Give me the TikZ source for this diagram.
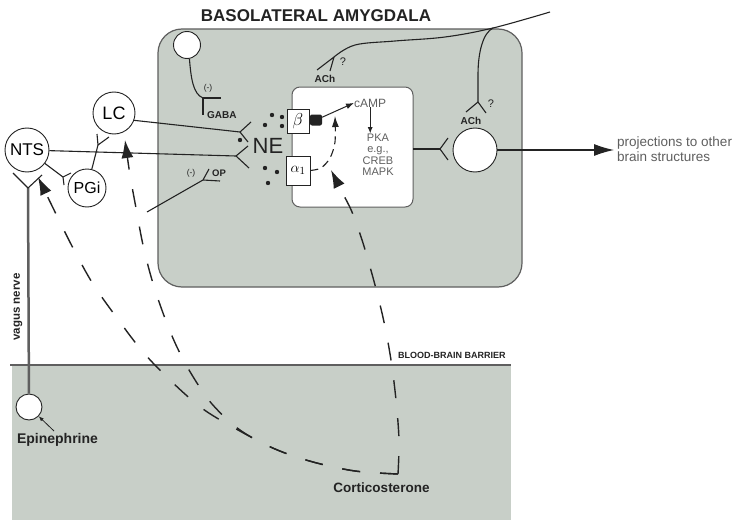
\documentclass[tikz,border=0pt]{standalone}
\usepackage{fontspec}
\setmainfont{Liberation Sans}
\usetikzlibrary{arrows.meta}
\definecolor{amyg}{RGB}{200,207,200}
\definecolor{boxedge}{RGB}{95,95,95}
\definecolor{ink}{RGB}{35,35,35}
\definecolor{soft}{RGB}{95,95,95}
\newcommand\fsz[1]{\fontsize{#1}{#1}\selectfont}
\begin{document}
\begin{tikzpicture}[x=1pt,y=-1pt,
  neuron/.style={circle,draw=ink,fill=white,line width=0.9pt,inner sep=0pt},
  axon/.style={draw=ink,line width=1.1pt},
  syn/.style={draw=ink,line width=1.1pt},
  hormone/.style={draw=ink,line width=1.4pt,dash pattern=on 18pt off 20pt},
  bigtip/.style={-{Latex[length=18pt,width=12pt]}},
  smalltip/.style={-{Latex[length=6pt,width=5pt]}},
  lbl/.style={inner sep=0pt,text=ink},
  softlbl/.style={inner sep=0pt,text=soft},
  recbox/.style={draw=ink,fill=white,line width=0.8pt,inner sep=0pt,minimum width=22pt,minimum height=24pt}]

\useasboundingbox (0,0) rectangle (747,527);
\fill[white] (0,0) rectangle (747,527);

% blood compartment
\fill[amyg] (12,365) rectangle (511,520);
\draw[draw=boxedge,line width=2pt] (10,365) -- (511,365);
\node[lbl,anchor=west,font=\bfseries\fsz{9}] (bbb) at (398,355) {BLOOD-BRAIN BARRIER};

% amygdala
\draw[fill=amyg,draw=boxedge,line width=1.2pt,rounded corners=24pt] (158,29) rectangle (522,287);
\draw[fill=white,draw=boxedge,line width=1pt,rounded corners=8pt] (292,87) rectangle (413,207);
\node[lbl,font=\bfseries\fsz{17}] (title) at (316,16) {BASOLATERAL AMYGDALA};

% neurons
\node[neuron,minimum size=44pt,font=\fsz{17}] (nts) at (27,150) {NTS};
\node[neuron,minimum size=42pt,font=\fsz{18}] (lc) at (114,113) {LC};
\node[neuron,minimum size=38pt,font=\fsz{16}] (pgi) at (87,188) {PGi};
\node[neuron,minimum size=27pt] (gn) at (187,45) {};
\node[neuron,minimum size=44pt] (out) at (475,150) {};
\node[neuron,minimum size=26pt] (epi) at (29,407) {};

% receptors
\node[recbox,font=\fsz{16}] (beta) at (298,121) {$\beta$};
\node[recbox,minimum width=24pt,minimum height=29pt,font=\fsz{15}] (alpha) at (298,170.5) {$\alpha_1$};
\node[fill=ink,minimum width=12pt,minimum height=11pt,inner sep=0pt,rounded corners=2pt] (blob) at (316,120) {};
\node[lbl,font=\fsz{22}] (ne) at (268,146) {NE};

% texts in the cell
\node[softlbl,anchor=base west,font=\fsz{12}] (camp) at (354,107) {cAMP};
\node[softlbl,anchor=base,font=\fsz{11}] (pka) at (378,141) {PKA};
\node[softlbl,anchor=base,font=\fsz{11}] (eg) at (378,152) {e.g.,};
\node[softlbl,anchor=base,font=\fsz{11}] (creb) at (378,164) {CREB};
\node[softlbl,anchor=base,font=\fsz{11}] (mapk) at (378,175) {MAPK};
\draw[ink,line width=0.9pt,smalltip] (camp.south) -- (camp.south |- pka.north);
\draw[ink,line width=1pt,-{Latex[length=8pt,width=6pt]}] (blob) -- (camp.west);

% NE vesicle dots
\foreach \p in {(272,115),(282,117),(265,125),(282,126),(240,140),(265,168),(277,172),(268,183)}
  \fill[ink] \p circle (2.2pt);

% coordinates
\coordinate (ne1) at (240,132);
\coordinate (ne2) at (236,156);
\coordinate (vsyn) at (28,188);
\coordinate (pgisyn) at (63,177);
\coordinate (lcsyn) at (98,145);
\coordinate (gabaT) at (203,98);
\coordinate (opstart) at (147,212);
\coordinate (opT) at (203,180);
\coordinate (ax0) at (550,12);
\coordinate (axJ) at (493,28);
\coordinate (ach1) at (334,57);
\coordinate (ach2) at (478,102);
\coordinate (wbR) at (413,149);
\coordinate (outsyn) at (440,149);
\coordinate (projtip) at (614,150);
\coordinate (cort) at (398,474);
\coordinate (ntsin) at (38,177);
\coordinate (lcin) at (125,140);
\coordinate (a1tip) at (331,170);
\coordinate (betain) at (335,116);
\coordinate (epiarr) at (54,431);

% projections to NE
\draw[axon] (lc.-20) -- (ne1);
\draw[syn] (ne1) -- ++(11,-10) (ne1) -- ++(8,10);
\draw[axon] (nts) -- (ne2);
\draw[syn] (ne2) -- ++(12,-10) (ne2) -- ++(13,12);
\draw[axon] (nts) -- (pgisyn);
\draw[syn] (pgisyn) -- ++(1,8) (pgisyn) -- ++(8,-4);
\draw[axon] (pgi) -- (lcsyn);
\draw[syn] (lcsyn) -- ++(-1,-11) (lcsyn) -- ++(11,-8);

% vagus nerve
\draw[draw=boxedge,line width=2.5pt] (epi) -- (vsyn);
\draw[syn] (vsyn) -- ++(-15,-15) (vsyn) -- ++(14,-13);
\node[lbl,rotate=90,font=\bfseries\fsz{11.5}] (vagus) at (18,307) {vagus nerve};

% GABA interneuron
\draw[axon] (gn.-80) .. controls (191,78) and (193,94) .. (gabaT);
\draw[syn] (gabaT) -- ++(18,0) (gabaT) -- ++(0,17);
\node[lbl,font=\fsz{8.5}] (gabaminus) at (208,88) {(-)};
\node[lbl,anchor=west,font=\bfseries\fsz{10}] (gaba) at (207,115) {GABA};

% opioid
\draw[axon] (opstart) -- (opT);
\draw[syn] (opT) -- ++(6,-11) (opT) -- ++(17,1);
\node[lbl,font=\fsz{8.5}] (opminus) at (191,173) {(-)};
\node[lbl,font=\bfseries\fsz{9.5}] (op) at (219,173) {OP};

% cholinergic input
\draw[axon] plot[smooth,tension=0.6] coordinates {(ax0) (axJ) (445,37) (395,41) (355,45) (ach1)};
\draw[axon] (axJ) .. controls (483,33) and (478,52) .. (478,75) -- (ach2);
\draw[syn] (ach1) -- (317,70) (ach1) -- (330,71);
\draw[syn] (ach2) -- ++(-12,10) (ach2) -- ++(8,11);
\node[lbl,font=\bfseries\fsz{10}] (achl1) at (325,79) {ACh};
\node[lbl,font=\fsz{11}] (q1) at (343,62) {?};
\node[lbl,font=\bfseries\fsz{10}] (achl2) at (471,121) {ACh};
\node[lbl,font=\fsz{11}] (q2) at (491,104) {?};

% output
\draw[axon] (wbR) -- (outsyn);
\draw[syn] (outsyn) -- ++(8,-11) (outsyn) -- ++(8,11);
\draw[axon,-{Latex[length=20pt,width=12pt]}] (out) -- (projtip);
\node[softlbl,anchor=base west,font=\fsz{13.5}] (proj1) at (617,146) {projections to other};
\node[softlbl,anchor=base west,font=\fsz{13.5}] (proj2) at (617,161) {brain structures};

% alpha -> beta
\draw[ink,line width=1.1pt,dash pattern=on 8pt off 5pt,-{Latex[length=11pt,width=7pt]}]
  plot[smooth] coordinates {(alpha.east) (321,168) (330,158) (335,142) (betain)};

% corticosterone
\draw[hormone,bigtip] plot[smooth,tension=0.55] coordinates {(cort) (355,471) (313,462) (275,449) (238,430) (203,409) (172,382) (143,352) (117,318) (93,284) (73,248) (56,214) (ntsin)};
\draw[hormone,bigtip] plot[smooth,tension=0.55] coordinates {(cort) (355,471) (313,462) (275,449) (240,430) (212,404) (192,375) (176,345) (163,313) (152,280) (143,245) (136,208) (130,175) (lcin)};
\draw[hormone,bigtip] plot[smooth,tension=0.55] coordinates {(cort) (399,440) (396,400) (391,360) (384,322) (375,285) (363,243) (352,212) (342,192) (a1tip)};

% blood labels
\node[lbl,anchor=base,font=\bfseries\fsz{14}] (epilabel) at (57.5,443) {Epinephrine};
\draw[ink,line width=0.8pt,-{Latex[length=5pt,width=4pt]}] (epiarr) -- (epi);
\node[lbl,anchor=base,font=\bfseries\fsz{13.5}] (cortlabel) at (381.5,492) {Corticosterone};
\end{tikzpicture}
\end{document}
